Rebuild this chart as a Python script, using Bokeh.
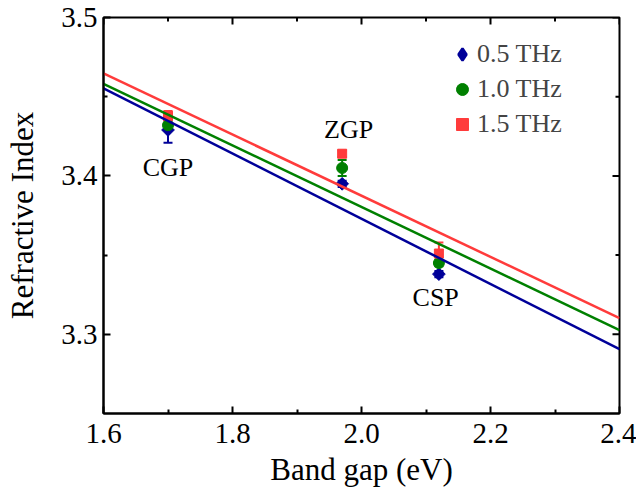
import numpy as np
from bokeh.plotting import figure
from bokeh.models import (ColumnDataSource, FixedTicker, PrintfTickFormatter,
                          Whisker, TeeHead, Legend, LegendItem, Range1d)
from bokeh.core.properties import value
from bokeh.embed import file_html
from bokeh.resources import INLINE

# ---- data ----
band_gap = [1.70, 1.97, 2.12]
materials = ["CGP", "ZGP", "CSP"]
n_05 = [3.429, 3.395, 3.338]
n_10 = [3.432, 3.405, 3.345]
n_15 = [3.438, 3.414, 3.351]
err_05 = [0.008, 0.002, 0.002]
err_10 = [0.003, 0.005, 0.002]
err_15 = [0.003, 0.002, 0.007]
series_labels = ["0.5 THz", "1.0 THz", "1.5 THz"]
label_x = [1.70, 1.98, 2.115]
label_y = [3.405, 3.429, 3.323]
x_ticks = [1.6, 1.8, 2.0, 2.2, 2.4]
x_minor = [1.7, 1.9, 2.1, 2.3]
y_ticks = [3.3, 3.4, 3.5]
y_minor = [3.35, 3.45]
x_lim = (1.6, 2.4)
y_lim = (3.25, 3.5)

FONT = "Liberation Serif"
colors = ["#000099", "#008000", "#FF3B3B"]

p = figure(width=636, height=491, output_backend="svg", toolbar_location=None,
           x_range=Range1d(*x_lim), y_range=Range1d(*y_lim),
           min_border_left=103, min_border_right=17, min_border_top=17, min_border_bottom=78)
p.grid.visible = False
p.background_fill_color = "white"
p.border_fill_color = "white"
p.outline_line_color = "black"
p.outline_line_width = 2

def style_axis(ax, ticks, minor):
    ax.ticker = FixedTicker(ticks=ticks, minor_ticks=minor)
    ax.formatter = PrintfTickFormatter(format="%.1f")
    ax.axis_line_width = 2
    ax.axis_line_color = "black"
    ax.major_tick_in = 7
    ax.major_tick_out = 0
    ax.minor_tick_in = 4
    ax.minor_tick_out = 0
    ax.major_tick_line_width = 2
    ax.minor_tick_line_width = 2
    ax.major_label_text_font = FONT
    ax.axis_label_text_font = FONT
    ax.axis_label_text_font_style = "normal"
    ax.major_label_text_color = "black"
    ax.axis_label_text_color = "black"
    ax.major_label_text_font_size = "29px"
    ax.axis_label_text_font_size = "31px"

style_axis(p.xaxis[0], x_ticks, x_minor)
style_axis(p.yaxis[0], y_ticks, y_minor)
p.xaxis[0].axis_label = "Band gap (eV)"
p.yaxis[0].axis_label = "Refractive Index"
p.xaxis[0].major_label_standoff = 10
p.xaxis[0].axis_label_standoff = 6
p.yaxis[0].major_label_standoff = 6
p.yaxis[0].axis_label_standoff = 18

# mirrored inward ticks on the top and right frame edges
p.ray(x=x_ticks, y=y_lim[1], length=7, length_units="screen", angle=-np.pi / 2,
      line_color="black", line_width=2)
p.ray(x=x_minor, y=y_lim[1], length=4, length_units="screen", angle=-np.pi / 2,
      line_color="black", line_width=2)
p.ray(x=x_lim[1], y=y_ticks, length=7, length_units="screen", angle=np.pi,
      line_color="black", line_width=2)
p.ray(x=x_lim[1], y=y_minor, length=4, length_units="screen", angle=np.pi,
      line_color="black", line_width=2)

series = [n_05, n_10, n_15]
errs = [err_05, err_10, err_15]
markers = [("square", np.pi / 4, 9), ("circle", 0, 11), ("square", 0, 9)]
legend_markers = ["diamond", "circle", "square"]

legend_items = []
for ys, es, c, (mk, ang, sz), lm, lab in zip(series, errs, colors, markers,
                                             legend_markers, series_labels):
    src = ColumnDataSource(dict(x=band_gap, y=ys,
                                lo=[y - e for y, e in zip(ys, es)],
                                hi=[y + e for y, e in zip(ys, es)]))
    w = Whisker(base="x", upper="hi", lower="lo", source=src, dimension="height",
                line_color=c, line_width=2,
                upper_head=TeeHead(size=9, line_color=c, line_width=2),
                lower_head=TeeHead(size=9, line_color=c, line_width=2))
    p.add_layout(w)
    if lm != mk:
        # swatch renderer for the legend, hidden under the plotted marker
        lr = p.scatter("x", "y", source=src, marker=lm, size=9,
                       fill_color=c, line_color=c, line_width=2.5)
    r = p.scatter("x", "y", source=src, marker=mk, angle=ang, size=sz,
                  fill_color=c, line_color=c)
    if lm == mk:
        lr = r
    legend_items.append(LegendItem(label=lab, renderers=[lr]))

for ys, c in zip(series, colors):
    k, b = np.polyfit(band_gap, ys, 1)
    p.line(list(x_lim), [k * x + b for x in x_lim], line_color=c, line_width=2.5)

p.text(x=label_x, y=label_y, text=materials, text_font=value(FONT),
       text_font_size="26px", text_align="center", text_baseline="middle",
       text_color="black")

legend = Legend(items=legend_items,
                location=(344, 274), padding=0, spacing=5, glyph_width=30, glyph_height=30,
                label_height=30, label_standoff=0, border_line_color=None,
                background_fill_alpha=0, label_text_font=FONT, label_text_font_size="26px",
                margin=0)
p.add_layout(legend, "center")

open("out.html", "w").write(file_html(p, INLINE))
